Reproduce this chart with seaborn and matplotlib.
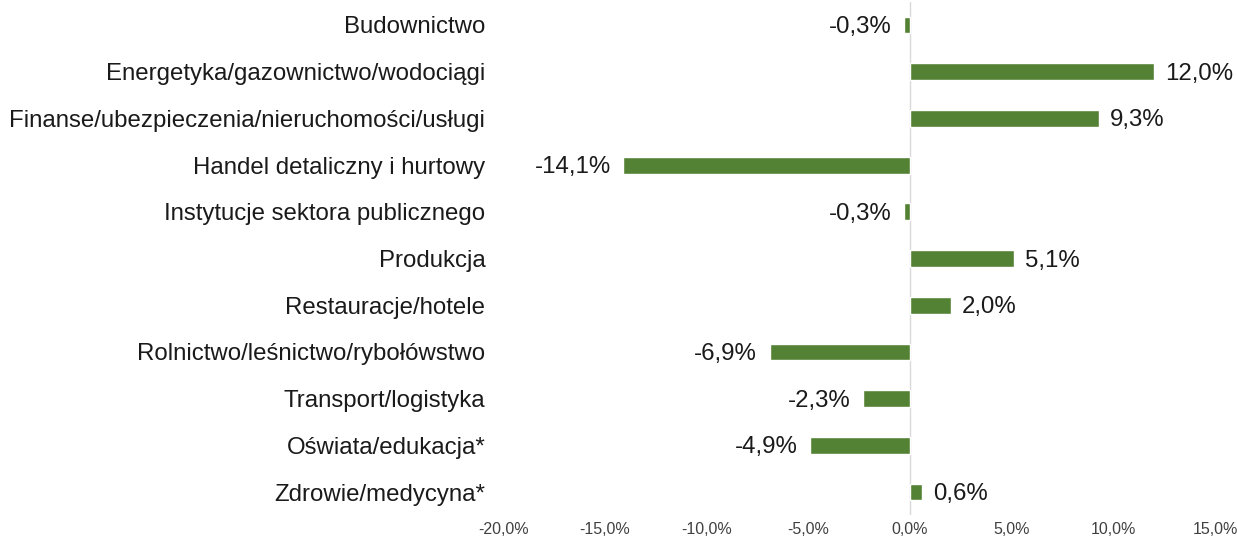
import matplotlib
matplotlib.use("Agg")
import matplotlib.pyplot as plt
import seaborn as sns
import pandas as pd

categories = [
    "Budownictwo",
    "Energetyka/gazownictwo/wodociągi",
    "Finanse/ubezpieczenia/nieruchomości/usługi",
    "Handel detaliczny i hurtowy",
    "Instytucje sektora publicznego",
    "Produkcja",
    "Restauracje/hotele",
    "Rolnictwo/leśnictwo/rybołówstwo",
    "Transport/logistyka",
    "Oświata/edukacja*",
    "Zdrowie/medycyna*",
]
values = [-0.3, 12.0, 9.3, -14.1, -0.3, 5.1, 2.0, -6.9, -2.3, -4.9, 0.6]
x_ticks = [-20, -15, -10, -5, 0, 5, 10, 15]

sns.set_style("white")
plt.rcParams['font.family'] = ['Liberation Sans', 'DejaVu Sans']

df = pd.DataFrame({"cat": categories, "val": values})

fig = plt.figure(figsize=(12.37, 5.42), dpi=100)
ax = fig.add_axes([0.4069, 0.049, 0.5754, 0.948])
sns.barplot(data=df, x="val", y="cat", orient="h", color="#548235",
            width=0.36, saturation=1, ax=ax)

ax.set_xlim(-20, 15)
ax.set_xticks(x_ticks)
ax.set_xticklabels([f"{t:.1f}%".replace(".", ",") for t in x_ticks], fontsize=11.5, color="#404040")
ax.tick_params(axis="x", length=0, pad=5)
ax.tick_params(axis="y", length=0, pad=13, labelsize=17.3, labelcolor="#1a1a1a")
ax.set_xlabel("")
ax.set_ylabel("")
for s in ax.spines.values():
    s.set_visible(False)
ax.axvline(0, color="#d9d9d9", lw=1, zorder=0)

for i, v in enumerate(values):
    lab = f"{v:.1f}%".replace(".", ",")
    if v >= 0:
        ax.annotate(lab, (v, i), xytext=(8, -1.5), textcoords="offset points",
                    ha="left", va="center", fontsize=17.3, color="#1a1a1a")
    else:
        ax.annotate(lab, (v, i), xytext=(-9, -1.5), textcoords="offset points",
                    ha="right", va="center", fontsize=17.3, color="#1a1a1a")

fig.savefig("out.png", dpi=100)
